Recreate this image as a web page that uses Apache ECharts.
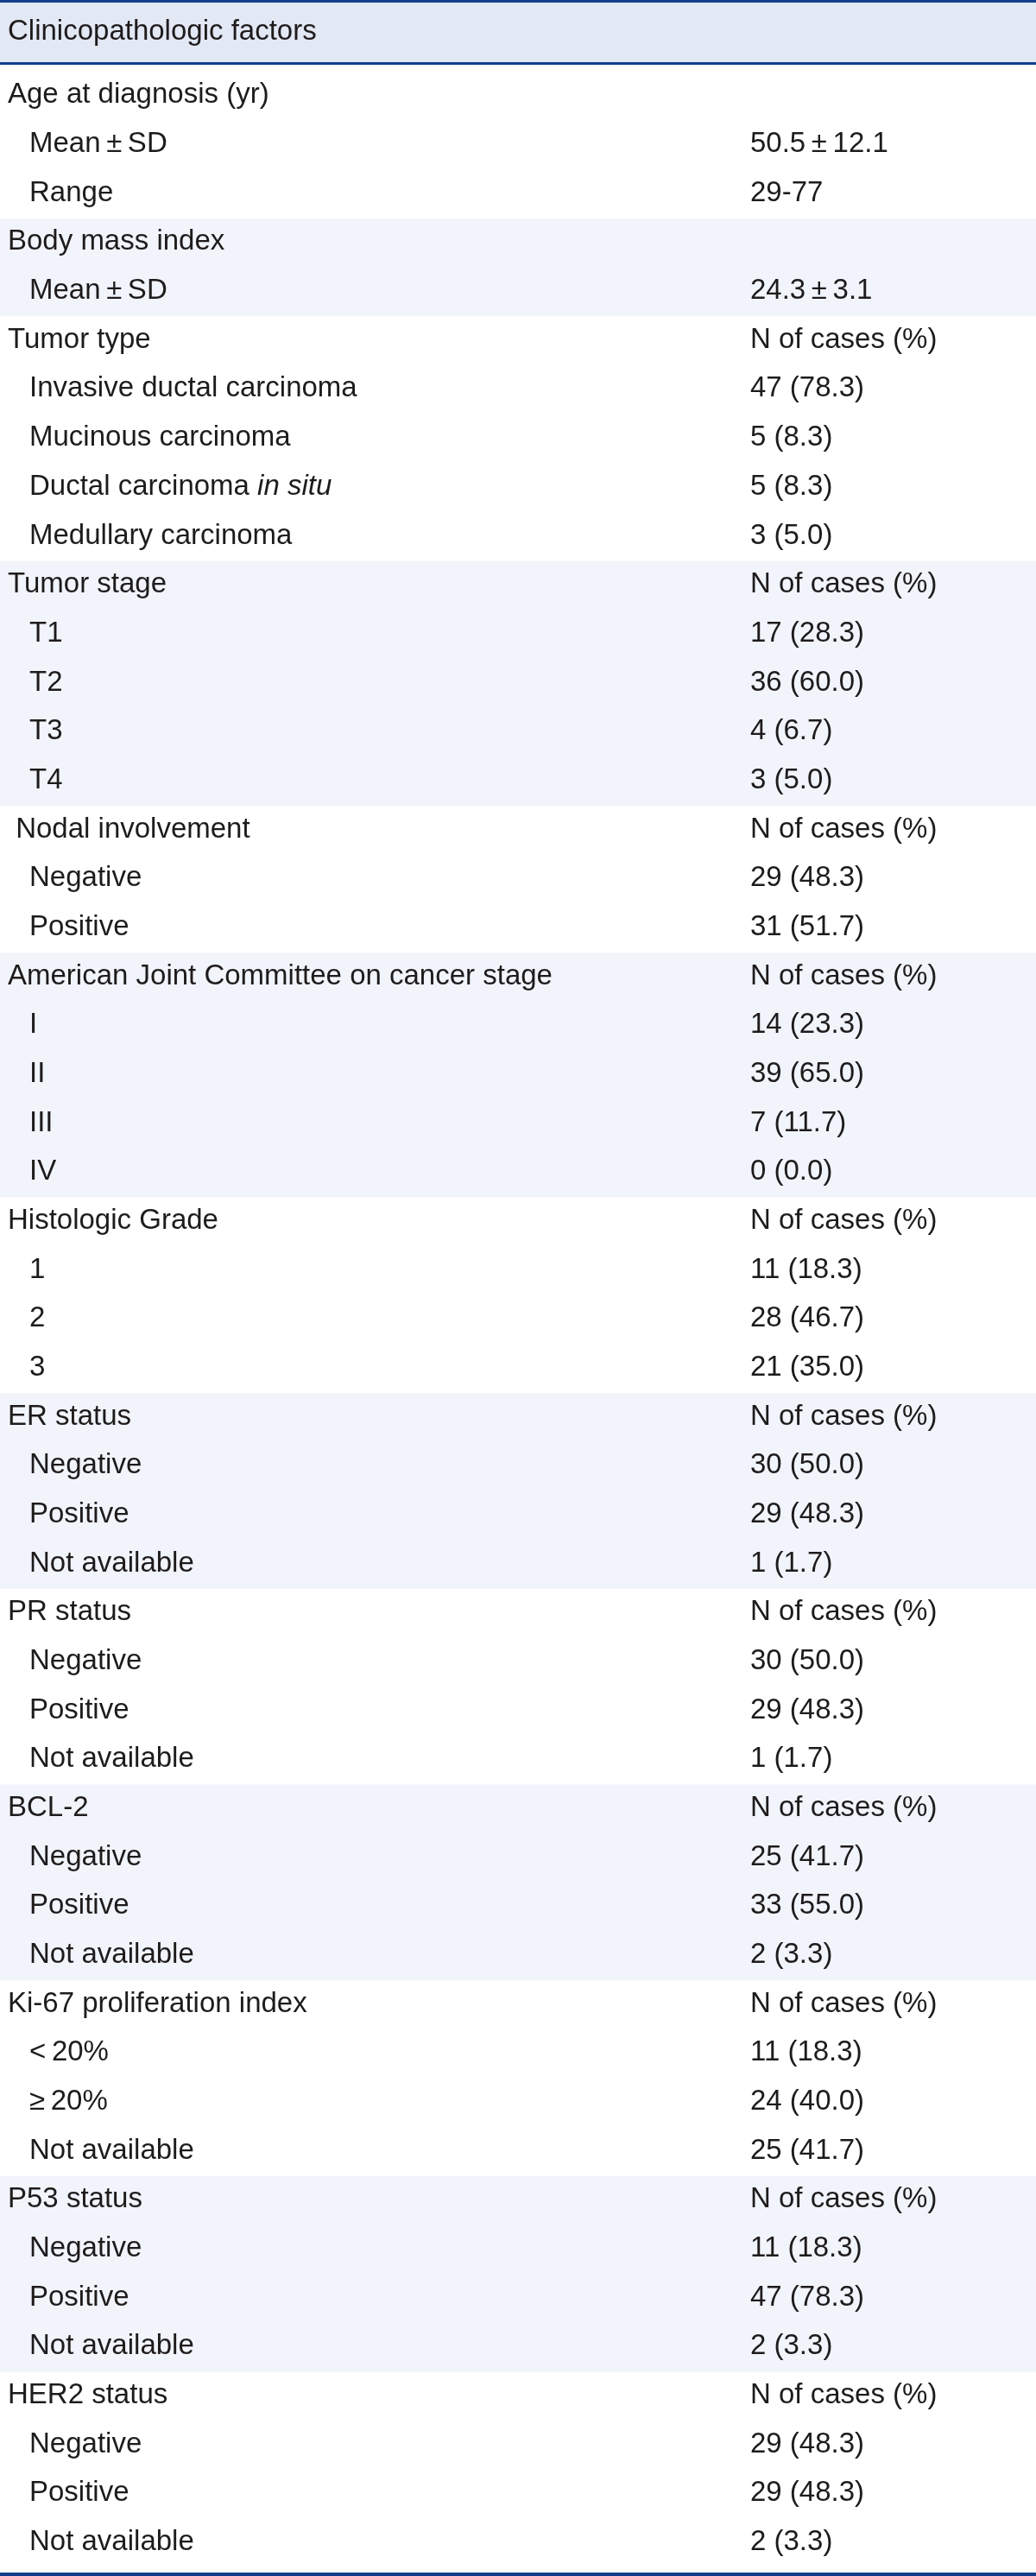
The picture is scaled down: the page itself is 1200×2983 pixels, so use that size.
<!DOCTYPE html>
<html>
<head>
<meta charset="utf-8">
<script src="https://cdn.jsdelivr.net/npm/echarts@6/dist/echarts.min.js"></script>
<style>
html,body{margin:0;padding:0;background:#fff;}
#chart{width:1200px;height:2983px;}
</style>
</head>
<body>
<div id="chart"></div>
<script>
// ---- table content ----
const headerTitle = 'Clinicopathologic factors';

const rowLabels = [
  'Age at diagnosis (yr)', 'Mean\u2009\u00b1\u2009SD', 'Range',
  'Body mass index', 'Mean\u2009\u00b1\u2009SD',
  'Tumor type', 'Invasive ductal carcinoma', 'Mucinous carcinoma', 'Ductal carcinoma in situ', 'Medullary carcinoma',
  'Tumor stage', 'T1', 'T2', 'T3', 'T4',
  ' Nodal involvement', 'Negative', 'Positive',
  'American Joint Committee on cancer stage', 'I', 'II', 'III', 'IV',
  'Histologic Grade', '1', '2', '3',
  'ER status', 'Negative', 'Positive', 'Not available',
  'PR status', 'Negative', 'Positive', 'Not available',
  'BCL-2', 'Negative', 'Positive', 'Not available',
  'Ki-67 proliferation index', '<\u200920%', '\u2265\u200920%', 'Not available',
  'P53 status', 'Negative', 'Positive', 'Not available',
  'HER2 status', 'Negative', 'Positive', 'Not available'
];

const rowValues = [
  '', '50.5\u2009\u00b1\u200912.1', '29-77',
  '', '24.3\u2009\u00b1\u20093.1',
  'N of cases (%)', '47 (78.3)', '5 (8.3)', '5 (8.3)', '3 (5.0)',
  'N of cases (%)', '17 (28.3)', '36 (60.0)', '4 (6.7)', '3 (5.0)',
  'N of cases (%)', '29 (48.3)', '31 (51.7)',
  'N of cases (%)', '14 (23.3)', '39 (65.0)', '7 (11.7)', '0 (0.0)',
  'N of cases (%)', '11 (18.3)', '28 (46.7)', '21 (35.0)',
  'N of cases (%)', '30 (50.0)', '29 (48.3)', '1 (1.7)',
  'N of cases (%)', '30 (50.0)', '29 (48.3)', '1 (1.7)',
  'N of cases (%)', '25 (41.7)', '33 (55.0)', '2 (3.3)',
  'N of cases (%)', '11 (18.3)', '24 (40.0)', '25 (41.7)',
  'N of cases (%)', '11 (18.3)', '47 (78.3)', '2 (3.3)',
  'N of cases (%)', '29 (48.3)', '29 (48.3)', '2 (3.3)'
];

// 0 = group heading, 1 = indented sub-row
const rowLevel = [
  0,1,1,
  0,1,
  0,1,1,1,1,
  0,1,1,1,1,
  0,1,1,
  0,1,1,1,1,
  0,1,1,1,
  0,1,1,1,
  0,1,1,1,
  0,1,1,1,
  0,1,1,1,
  0,1,1,1,
  0,1,1,1
];

// ---- styling ----
const FONT_FAMILY = '"Liberation Sans", Arial, sans-serif';
const FONT_SIZE = 33;
const TEXT_COLOR = '#1e1b1c';
const RULE_COLOR = '#123e8c';
const HEADER_BG = '#e2e8f4';
const BAND_BG = '#f1f4fa';
const X_LABEL = 9;
const X_INDENT = 34;
const X_VALUE = 869;

// derived: group index and span of each heading row
const groupIndex = [];
const groupSpan = [];
(function () {
  let g = -1;
  for (let i = 0; i < rowLevel.length; i++) {
    if (rowLevel[i] === 0) g++;
    groupIndex.push(g);
  }
  for (let i = 0; i < rowLevel.length; i++) {
    let s = 0;
    if (rowLevel[i] === 0) {
      s = 1;
      while (i + s < rowLevel.length && rowLevel[i + s] === 1) s++;
    }
    groupSpan.push(s);
  }
})();

const chart = echarts.init(document.getElementById('chart'), null, {renderer: 'canvas', width: 1200, height: 2983});

function textEl(str, x, y) {
  const style = {
    x: x, y: y,
    fill: TEXT_COLOR,
    fontSize: FONT_SIZE,
    fontFamily: FONT_FAMILY,
    align: 'left',
    verticalAlign: 'middle'
  };
  const k = str.indexOf('in situ');
  if (k >= 0) {
    style.text = '{n|' + str.slice(0, k) + '}{i|in situ}';
    style.rich = {
      n: {fontSize: FONT_SIZE, fontFamily: FONT_FAMILY, fill: TEXT_COLOR, color: TEXT_COLOR},
      i: {fontSize: FONT_SIZE, fontFamily: FONT_FAMILY, fontStyle: 'italic', fill: TEXT_COLOR, color: TEXT_COLOR}
    };
  } else {
    style.text = str;
  }
  return {type: 'text', style: style, z2: 10};
}

function renderItem(params, api) {
  const i = api.value(0);
  const pTop = api.coord([0, i]);
  const pBot = api.coord([1200, i + 1]);
  const yMid = (pTop[1] + pBot[1]) / 2 - 1;
  const children = [];
  if (rowLevel[i] === 0 && groupIndex[i] % 2 === 1) {
    const pEnd = api.coord([1200, i + groupSpan[i]]);
    children.push({
      type: 'rect',
      shape: {x: pTop[0], y: pTop[1], width: pEnd[0] - pTop[0], height: pEnd[1] - pTop[1]},
      style: {fill: BAND_BG},
      z2: 0
    });
  }
  const xl = api.coord([rowLevel[i] === 0 ? X_LABEL : X_INDENT, i])[0];
  const xv = api.coord([X_VALUE, i])[0];
  children.push(textEl(rowLabels[i], xl, yMid));
  if (rowValues[i]) children.push(textEl(rowValues[i], xv, yMid));
  return {type: 'group', children: children};
}

const option = {
  animation: false,
  backgroundColor: '#ffffff',
  grid: {left: 0, right: 0, top: 83, bottom: 9.6},
  xAxis: {type: 'value', min: 0, max: 1200, show: false},
  yAxis: {type: 'value', min: 0, max: rowLabels.length, inverse: true, show: false},
  graphic: [
    {type: 'rect', shape: {x: 0, y: 0, width: 1200, height: 73}, style: {fill: HEADER_BG}, z: 0},
    {type: 'rect', shape: {x: 0, y: 0, width: 1200, height: 3}, style: {fill: RULE_COLOR}, z: 1},
    {type: 'rect', shape: {x: 0, y: 72, width: 1200, height: 3}, style: {fill: RULE_COLOR}, z: 1},
    {type: 'rect', shape: {x: 0, y: 2979, width: 1200, height: 4}, style: {fill: RULE_COLOR}, z: 1},
    {type: 'text', x: 9, y: 37, style: {text: headerTitle, fill: TEXT_COLOR, fontSize: FONT_SIZE, fontFamily: FONT_FAMILY, align: 'left', verticalAlign: 'middle'}, z: 2}
  ],
  series: [{
    type: 'custom',
    coordinateSystem: 'cartesian2d',
    renderItem: renderItem,
    data: rowLabels.map(function (_, i) { return [i]; }),
    silent: true
  }]
};
chart.setOption(option);
</script>
</body>
</html>
